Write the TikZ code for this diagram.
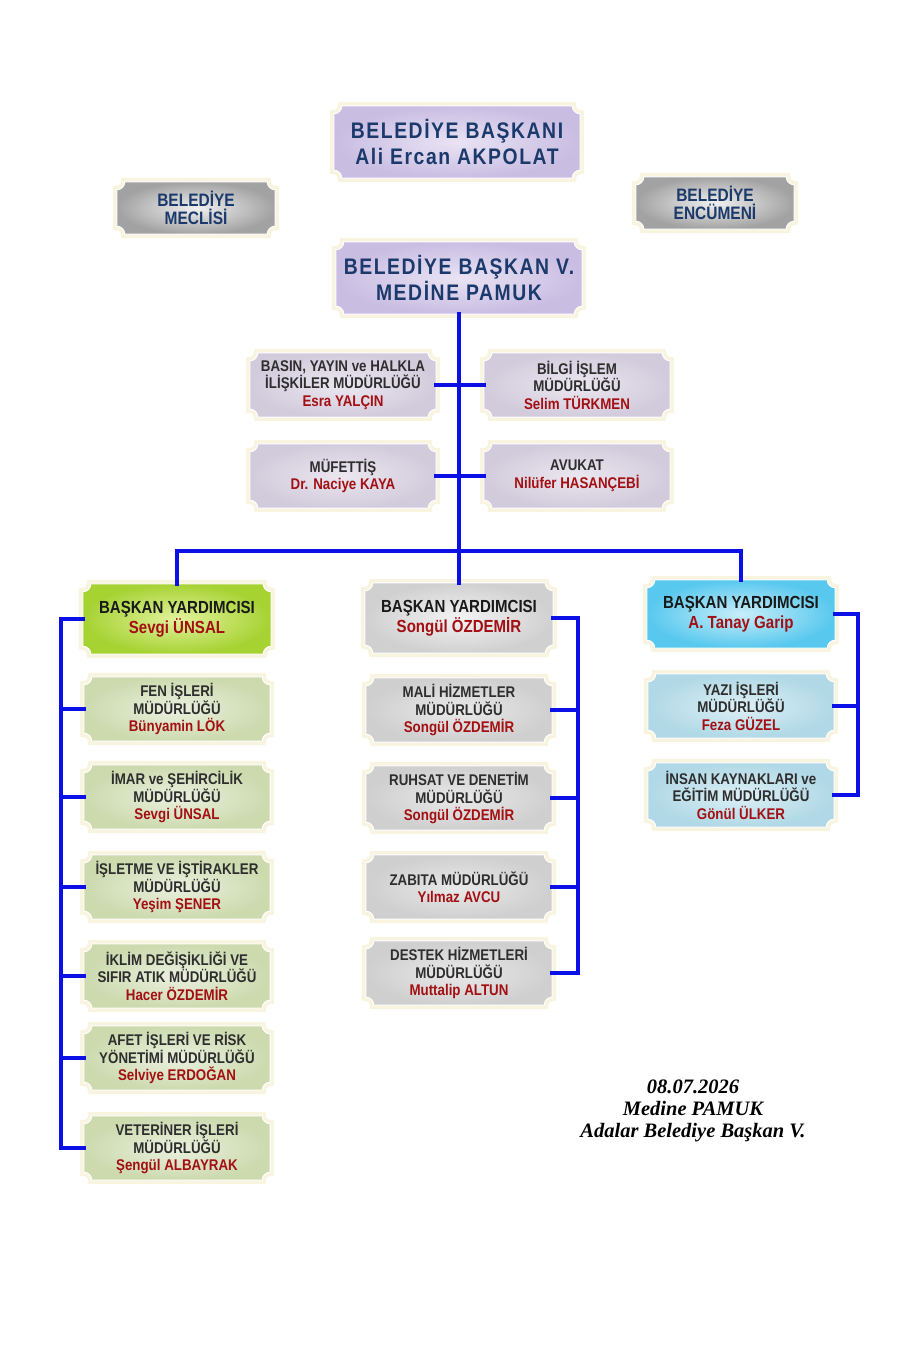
\documentclass[tikz,border=0pt]{standalone}
\usepackage{fontspec}
\setmainfont{Liberation Sans}
\newfontfamily\boxfont[FakeStretch=0.86]{Liberation Sans}
\newfontfamily\signfont{Liberation Serif}
\usepackage{tikz}
\usetikzlibrary{calc}
\usetikzlibrary{backgrounds}

\definecolor{navy}{HTML}{1B3A6B}
\definecolor{namec}{HTML}{A30F12}
\definecolor{txtc}{HTML}{2E2E2E}
\definecolor{linec}{HTML}{0A10E6}
\definecolor{glowc}{HTML}{F8F4E0}
\definecolor{lavin}{HTML}{E9E3F4}
\definecolor{lavout}{HTML}{C9BDE2}
\definecolor{stfin}{HTML}{EBE7F0}
\definecolor{stfout}{HTML}{D2CBDC}
\definecolor{gryin}{HTML}{F0F0F0}
\definecolor{gryout}{HTML}{A2A2A2}
\definecolor{grnin}{HTML}{E2F29C}
\definecolor{grnout}{HTML}{A6D232}
\definecolor{lgrnin}{HTML}{EBF0DF}
\definecolor{lgrnout}{HTML}{CCDAAE}
\definecolor{gyin}{HTML}{F3F3F3}
\definecolor{gyout}{HTML}{D0D0D0}
\definecolor{lgyin}{HTML}{E9E9E9}
\definecolor{lgyout}{HTML}{CFCFCF}
\definecolor{bluin}{HTML}{C8EEFA}
\definecolor{bluout}{HTML}{58C8EE}
\definecolor{lbluin}{HTML}{DDF0F6}
\definecolor{lbluout}{HTML}{B0D8E6}

\newcommand{\who}[1]{\textcolor{namec}{#1}}
\def\rr{8pt}
% box outline with hollow corners
\newcommand{\boxpath}[1]{($(#1.south west)+(0,\rr)$) -- ($(#1.north west)+(0,-\rr)$) arc[start angle=-90,end angle=0,radius=\rr] -- ($(#1.north east)+(-\rr,0)$) arc[start angle=180,end angle=270,radius=\rr] -- ($(#1.south east)+(0,\rr)$) arc[start angle=90,end angle=180,radius=\rr] -- ($(#1.south west)+(\rr,0)$) arc[start angle=0,end angle=90,radius=\rr] -- cycle}

\begin{document}
\begin{tikzpicture}[x=1pt,y=1pt,
    box/.style={rectangle, inner sep=0pt, align=center, text=txtc, minimum width=186pt, minimum height=64pt, font=\boxfont\bfseries\fontsize{15.5}{17.5}\selectfont},
    top/.style={box, text=navy, minimum width=246pt, minimum height=72pt, font=\boxfont\bfseries\fontsize{22.5}{26}\selectfont\addfontfeature{LetterSpace=7}},
    side/.style={box, text=navy, minimum width=158pt, minimum height=52pt, font=\boxfont\bfseries\fontsize{18}{18}\selectfont},
    head/.style={box, text=black!90, minimum width=188pt, minimum height=70pt, font=\boxfont\bfseries\fontsize{17.5}{20}\selectfont},
    link/.style={draw=linec, line width=3.5pt, line cap=rect}]
    \tikzset{plate/.style={preaction={draw=glowc, line width=8pt}, draw=white, line width=1pt}}
    \tikzset{lavf/.style={inner color=lavin, outer color=lavout}, stff/.style={inner color=stfin, outer color=stfout},
    gryf/.style={inner color=gryin, outer color=gryout}, grnf/.style={inner color=grnin, outer color=grnout},
    lgrnf/.style={inner color=lgrnin, outer color=lgrnout}, gyf/.style={inner color=gyin, outer color=gyout},
    lgyf/.style={inner color=lgyin, outer color=lgyout}, bluf/.style={inner color=bluin, outer color=bluout},
    lbluf/.style={inner color=lbluin, outer color=lbluout}}
    \useasboundingbox (0,0) rectangle (900,-1350);

    \node[top] (bsk) at (457,-142) {BELEDİYE BAŞKANI\\Ali Ercan AKPOLAT};
    \node[side] (meclis) at (196,-208) {BELEDİYE\\MECLİSİ};
    \node[side] (encumen) at (715,-203) {BELEDİYE\\ENCÜMENİ};
    \node[top] (bskv) at (459,-278) {BELEDİYE BAŞKAN V.\\MEDİNE PAMUK};

    \node[box] (basin) at (343,-385) {BASIN, YAYIN ve HALKLA\\İLİŞKİLER MÜDÜRLÜĞÜ\\\who{Esra YALÇIN}};
    \node[box] (bilgi) at (577,-385) {BİLGİ İŞLEM\\MÜDÜRLÜĞÜ\\\who{Selim TÜRKMEN}};
    \node[box] (muf) at (343,-476) {MÜFETTİŞ\\\who{Dr. Naciye KAYA}};
    \node[box] (avk) at (577,-476) {AVUKAT\\\who{Nilüfer HASANÇEBİ}};

    \node[head] (byl) at (177,-619) {BAŞKAN YARDIMCISI\\\who{Sevgi ÜNSAL}};
    \node[box] (fen) at (177,-709) {FEN İŞLERİ\\MÜDÜRLÜĞÜ\\\who{Bünyamin LÖK}};
    \node[box] (imar) at (177,-797) {İMAR ve ŞEHİRCİLİK\\MÜDÜRLÜĞÜ\\\who{Sevgi ÜNSAL}};
    \node[box] (isl) at (177,-887) {İŞLETME VE İŞTİRAKLER\\MÜDÜRLÜĞÜ\\\who{Yeşim ŞENER}};
    \node[box] (iklim) at (177,-976) {İKLİM DEĞİŞİKLİĞİ VE\\SIFIR ATIK MÜDÜRLÜĞÜ\\\who{Hacer ÖZDEMİR}};
    \node[box] (afet) at (177,-1058) {AFET İŞLERİ VE RİSK\\YÖNETİMİ MÜDÜRLÜĞÜ\\\who{Selviye ERDOĞAN}};
    \node[box] (vet) at (177,-1148) {VETERİNER İŞLERİ\\MÜDÜRLÜĞÜ\\\who{Şengül ALBAYRAK}};

    \node[head] (byo) at (459,-618) {BAŞKAN YARDIMCISI\\\who{Songül ÖZDEMİR}};
    \node[box] (mali) at (459,-710) {MALİ HİZMETLER\\MÜDÜRLÜĞÜ\\\who{Songül ÖZDEMİR}};
    \node[box] (ruh) at (459,-798) {RUHSAT VE DENETİM\\MÜDÜRLÜĞÜ\\\who{Songül ÖZDEMİR}};
    \node[box] (zab) at (459,-887) {ZABITA MÜDÜRLÜĞÜ\\\who{Yılmaz AVCU}};
    \node[box] (des) at (459,-973) {DESTEK HİZMETLERİ\\MÜDÜRLÜĞÜ\\\who{Muttalip ALTUN}};

    \node[head, minimum height=68pt] (byb) at (741,-614) {BAŞKAN YARDIMCISI\\\who{A. Tanay Garip}};
    \node[box] (yazi) at (741,-706) {YAZI İŞLERİ\\MÜDÜRLÜĞÜ\\\who{Feza GÜZEL}};
    \node[box] (insan) at (741,-795) {İNSAN KAYNAKLARI ve\\EĞİTİM MÜDÜRLÜĞÜ\\\who{Gönül ÜLKER}};

    \node[align=center, font=\signfont\bfseries\itshape\fontsize{20.5}{22}\selectfont] (imza) at (693,-1111) {08.07.2026\\Medine PAMUK\\Adalar Belediye Başkan V.};

    \begin{scope}[on background layer]
    \foreach \n/\f in {bsk/lavf, bskv/lavf, meclis/gryf, encumen/gryf, basin/stff, bilgi/stff, muf/stff, avk/stff,
        byl/grnf, fen/lgrnf, imar/lgrnf, isl/lgrnf, iklim/lgrnf, afet/lgrnf, vet/lgrnf,
        byo/gyf, mali/lgyf, ruh/lgyf, zab/lgyf, des/lgyf, byb/bluf, yazi/lbluf, insan/lbluf}
    \path[plate, \f] \boxpath{\n};
    \end{scope}

    % connectors
    \coordinate (split) at (bskv.south |- 0,-551);
    \coordinate (lbar) at (61,0);
    \coordinate (mbar) at (578,0);
    \coordinate (rbar) at (858,0);
    \draw[link] (bskv) -- (split);
    \draw[link] (basin) -- (bilgi);
    \draw[link] (muf) -- (avk);
    \draw[link] (split) -| (byl);
    \draw[link] (split) -| (byb);
    \draw[link] (split) -- (byo);

    \draw[link] (byl.west -| lbar) -- (vet.west -| lbar);
    \foreach \c in {byl,fen,imar,isl,iklim,afet,vet}
    \draw[link] (\c.west) -- (\c.west -| lbar);
    \draw[link] (byo.east -| mbar) -- (des.east -| mbar);
    \foreach \c in {byo,mali,ruh,zab,des}
    \draw[link] (\c.east) -- (\c.east -| mbar);
    \draw[link] (byb.east -| rbar) -- (insan.east -| rbar);
    \foreach \c in {byb,yazi,insan}
    \draw[link] (\c.east) -- (\c.east -| rbar);
\end{tikzpicture}
\end{document}
